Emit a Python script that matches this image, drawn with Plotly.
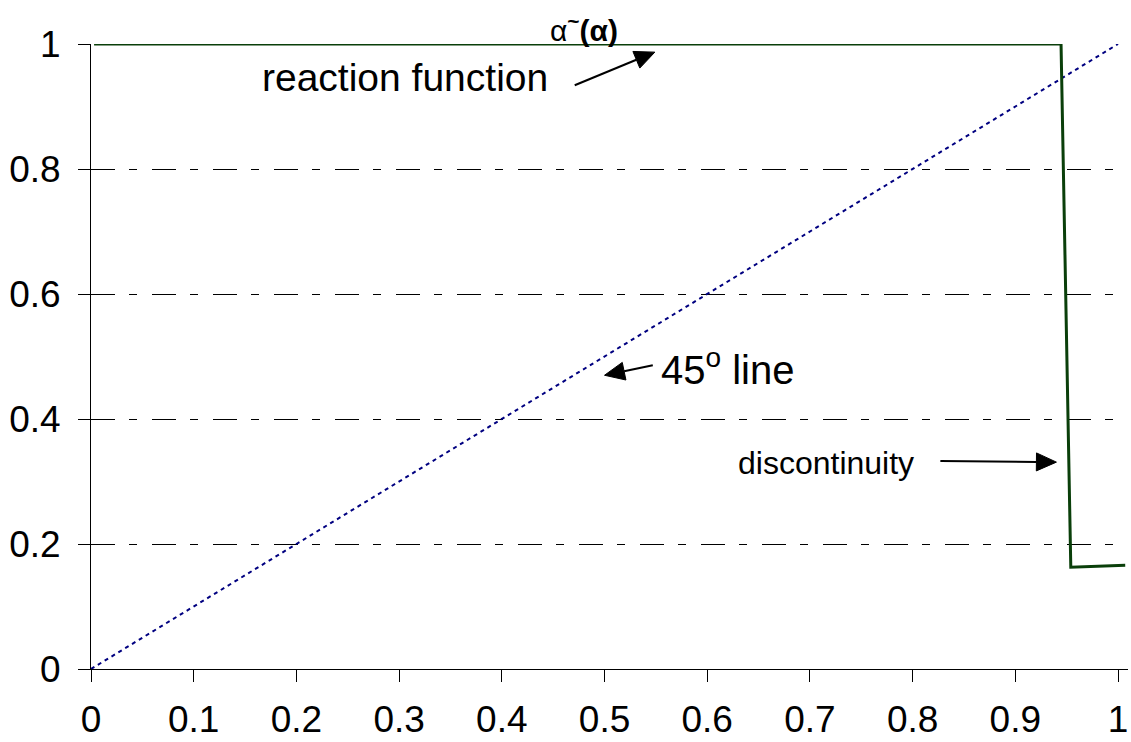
import math
import plotly.graph_objects as go

# Data
reaction_x = [0.003, 0.9445, 0.954, 1.007]
reaction_y = [1.0, 1.0, 0.163, 0.166]
line45_x = [0.0, 1.0]
line45_y = [0.0, 1.0]
x_ticks = [0, 0.1, 0.2, 0.3, 0.4, 0.5, 0.6, 0.7, 0.8, 0.9, 1]
x_tick_labels = ["0", "0.1", "0.2", "0.3", "0.4", "0.5", "0.6", "0.7", "0.8", "0.9", "1"]
y_ticks = [0, 0.2, 0.4, 0.6, 0.8, 1]
y_tick_labels = ["0", "0.2", "0.4", "0.6", "0.8", "1"]

FONT = "Liberation Sans, Arial, sans-serif"
W, H = 1131, 742
ML, MR, MT, MB = 91, 3, 44, 73
XR = [0, 1.0097]
YR = [0, 1]
PX = (W - ML - MR) / (XR[1] - XR[0])
PY = (H - MT - MB) / (YR[1] - YR[0])

fig = go.Figure()
fig.add_trace(go.Scatter(x=line45_x, y=line45_y, mode="lines",
                         line=dict(color="#000080", width=2, dash="4px,4px"),
                         showlegend=False, hoverinfo="skip"))
fig.add_trace(go.Scatter(x=reaction_x, y=reaction_y, mode="lines",
                         line=dict(color="#0a3f0a", width=3),
                         showlegend=False, hoverinfo="skip", cliponaxis=False))


def arrow(tx, ty, hx, hy, L=20, Wd=9):
    dx, dy = (hx - tx) * PX, (hy - ty) * PY
    n = math.hypot(dx, dy)
    ux, uy = dx / n, dy / n
    bx, by = hx - L * ux / PX, hy - L * uy / PY
    p1 = (bx + Wd * (-uy) / PX, by + Wd * ux / PY)
    p2 = (bx - Wd * (-uy) / PX, by - Wd * ux / PY)
    fig.add_shape(type="line", x0=tx, y0=ty, x1=bx, y1=by, xref="x", yref="y",
                  line=dict(color="black", width=2))
    fig.add_shape(type="path", xref="x", yref="y",
                  path=f"M {hx} {hy} L {p1[0]} {p1[1]} L {p2[0]} {p2[1]} Z",
                  fillcolor="black", line=dict(color="black", width=1))


labels = [
    dict(text="reaction function", x=0.306, y=0.946, size=39),
    dict(text="45<sup>o</sup> line", x=0.620, y=0.483, size=40),
    dict(text="discontinuity", x=0.716, y=0.330, size=32),
]
for a in labels:
    fig.add_annotation(x=a["x"], y=a["y"], text=a["text"], showarrow=False,
                       font=dict(family=FONT, size=a["size"], color="black"),
                       xref="x", yref="y")

arrow(0.471, 0.934, 0.549, 0.987)
arrow(0.547, 0.486, 0.500, 0.470)
arrow(0.827, 0.333, 0.940, 0.331)

fig.add_annotation(x=0.480, y=1.0, xref="x", yref="paper", yanchor="bottom", yshift=-5,
                   showarrow=False,
                   text="α<b><sup>~</sup>(α)</b>",
                   font=dict(family=FONT, size=30, color="black"))

fig.update_layout(
    width=W, height=H,
    margin=dict(l=ML, r=MR, t=MT, b=MB),
    paper_bgcolor="white", plot_bgcolor="white",
    font=dict(family=FONT, size=37, color="black"),
)
fig.update_xaxes(range=XR, tickvals=x_ticks, ticktext=x_tick_labels,
                 tickfont=dict(family=FONT, size=37, color="black"),
                 ticklabelstandoff=6,
                 showgrid=False, zeroline=False, showline=True, linecolor="black", linewidth=1,
                 ticks="outside", ticklen=12, tickcolor="black", tickwidth=1)
fig.update_yaxes(range=YR, tickvals=y_ticks, ticktext=y_tick_labels,
                 tickfont=dict(family=FONT, size=37, color="black"),
                 ticklabelstandoff=10,
                 showgrid=True, gridcolor="black", gridwidth=1, griddash="24px,14px,8px,15px",
                 zeroline=False, showline=True, linecolor="black", linewidth=1,
                 ticks="outside", ticklen=12, tickcolor="black", tickwidth=1)

fig.write_html("out.html")
